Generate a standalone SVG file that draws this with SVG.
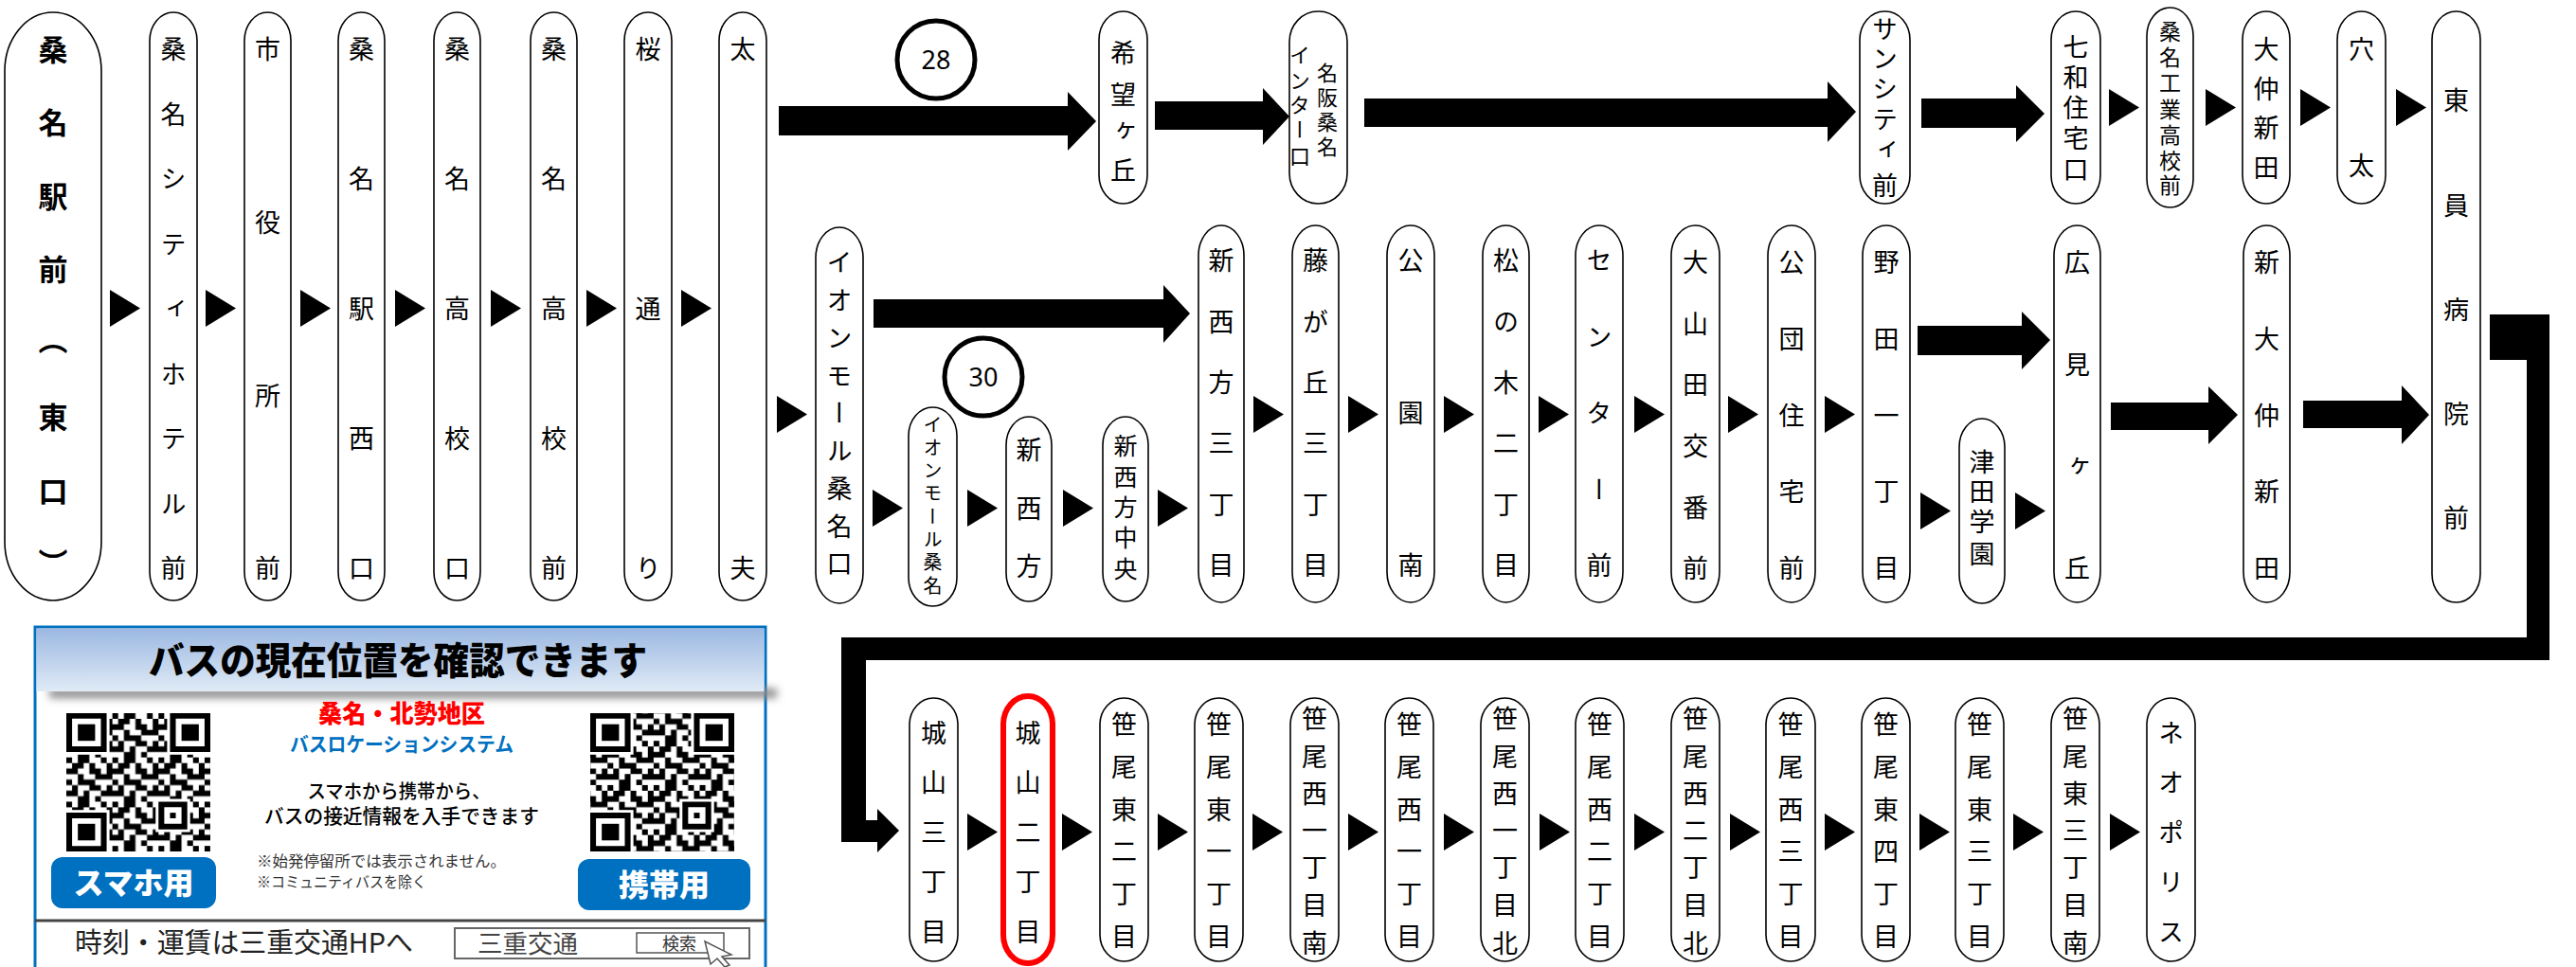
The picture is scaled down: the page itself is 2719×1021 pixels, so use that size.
<svg xmlns="http://www.w3.org/2000/svg" width="2719" height="1021" viewBox="0 0 2719 1021">
<style>
.n{fill:#fff;stroke:#000;stroke-width:1.6}
.v{font-family:"Noto Sans CJK JP","Noto Sans CJK SC",sans-serif;font-size:27px;writing-mode:vertical-rl;text-anchor:middle;fill:#000}
.s20{font-size:20px}.s22{font-size:22px}.s23{font-size:23px}.s25{font-size:25px}
.b{font-weight:700;font-size:31px}
.ar{fill:#000}
.rc{fill:#fff;stroke:#000;stroke-width:5}
.rn{font-family:"Noto Sans","Liberation Sans",sans-serif;font-size:27px;text-anchor:middle;fill:#000}
.j{font-family:"Noto Sans CJK JP","Noto Sans CJK SC",sans-serif}
</style>
<defs>
<polygon id="tri" points="0,0 32,19.5 0,39"/>
<pattern id="qrp" width="8" height="8" patternUnits="userSpaceOnUse"><path d="M0 0h1v1h-1z M2 0h2v1h-2z M6 0h1v1h-1z M1 1h2v1h-2z M4 1h1v1h-1z M7 1h1v1h-1z M0 2h2v1h-2z M4 2h2v1h-2z M7 2h1v1h-1z M2 3h1v1h-1z M5 3h3v1h-3z M0 4h1v1h-1z M2 4h3v1h-3z M1 5h1v1h-1z M4 5h2v1h-2z M7 5h1v1h-1z M0 6h2v1h-2z M3 6h1v1h-1z M6 6h2v1h-2z M2 7h2v1h-2z M5 7h1v1h-1z"/></pattern>
<pattern id="qrp2" href="#qrp" patternTransform="translate(3 5)"/>
<g id="finder"><rect width="8" height="8" fill="#fff" x="-0.5" y="-0.5"/><path d="M0 0h7v7h-7z M1 1v5h5v-5z" fill-rule="evenodd"/><rect x="2" y="2" width="3" height="3"/></g>
<g id="align"><rect x="-0.5" y="-0.5" width="6" height="6" fill="#fff"/><path d="M0 0h5v5h-5z M1 1v3h3v-3z" fill-rule="evenodd"/><rect x="2" y="2" width="1" height="1"/></g>
<linearGradient id="hdr" x1="0" y1="0" x2="0" y2="1"><stop offset="0" stop-color="#9cb8e2"/><stop offset="1" stop-color="#e0ebf6"/></linearGradient>
<filter id="blur" x="-10%" y="-100%" width="120%" height="300%"><feGaussianBlur stdDeviation="4"/></filter>
</defs>
<rect width="2719" height="1021" fill="#fff"/>

<g id="connectors">
<g class="ar">
<use href="#tri" x="116" y="306"/><use href="#tri" x="217" y="306"/><use href="#tri" x="317" y="306"/><use href="#tri" x="417" y="306"/><use href="#tri" x="518" y="306"/><use href="#tri" x="619" y="306"/><use href="#tri" x="719" y="306"/>
<use href="#tri" x="2226" y="94"/><use href="#tri" x="2328" y="94"/><use href="#tri" x="2428" y="94"/><use href="#tri" x="2529" y="94"/>
<use href="#tri" x="820" y="418"/>
<use href="#tri" x="921" y="517"/><use href="#tri" x="1021" y="517"/><use href="#tri" x="1122" y="517"/><use href="#tri" x="1222" y="517"/>
<use href="#tri" x="1323" y="418"/><use href="#tri" x="1423" y="418"/><use href="#tri" x="1524" y="418"/><use href="#tri" x="1624" y="418"/><use href="#tri" x="1725" y="418"/><use href="#tri" x="1824" y="418"/><use href="#tri" x="1926" y="418"/>
<use href="#tri" x="2027" y="520"/><use href="#tri" x="2127" y="520"/>
<use href="#tri" x="1021" y="859"/><use href="#tri" x="1121" y="859"/><use href="#tri" x="1222" y="859"/><use href="#tri" x="1322" y="859"/><use href="#tri" x="1423" y="859"/><use href="#tri" x="1524" y="859"/><use href="#tri" x="1625" y="859"/><use href="#tri" x="1725" y="859"/><use href="#tri" x="1826" y="859"/><use href="#tri" x="1926" y="859"/><use href="#tri" x="2026" y="859"/><use href="#tri" x="2125" y="859"/><use href="#tri" x="2227" y="859"/>
<polygon points="822,112 1127,112 1127,97 1157,128 1127,159 1127,143 822,143"/>
<polygon points="1219,107 1333,107 1333,93 1361,123 1333,153 1333,137 1219,137"/>
<polygon points="1440,104 1929,104 1929,86 1959,118 1929,150 1929,134 1440,134"/>
<polygon points="2028,104 2128,104 2128,90 2158,120 2128,150 2128,135 2028,135"/>
<polygon points="922,316 1228,316 1228,301 1256,331 1228,362 1228,346 922,346"/>
<polygon points="2024,344 2134,344 2134,329 2164,359 2134,390 2134,375 2024,375"/>
<polygon points="2228,425 2331,425 2331,408 2362,438 2331,469 2331,454 2228,454"/>
<polygon points="2431,423 2535,423 2535,407 2564,438 2535,469 2535,452 2431,452"/>
<path d="M2628,332 H2691 V697 H914 V866 H926 V854 L949,877 L926,900 V889 H888 V673 H2667 V380 H2628 Z"/>
</g>
<g id="route28"><circle class="rc" cx="988" cy="63" r="41"/><text class="rn" x="988" y="73">28</text></g>
<g id="route30"><circle class="rc" cx="1038" cy="398" r="41"/><text class="rn" x="1038" y="408">30</text></g>
</g>

<g id="nodes">
<g id="n01"><rect class="n" x="5" y="13" width="102" height="621" rx="51" ry="62"/><text class="v b" x="56" y="52 129 207 284 358 440 518 594">桑名駅前（東口）</text></g>
<g id="n02"><rect class="n" x="158" y="13" width="50" height="621" rx="25" ry="30"/><text class="v" x="183" y="52 120.5 189 257.5 326 394.5 463 531.5 600">桑名シティホテル前</text></g>
<g id="n03"><rect class="n" x="258" y="13" width="49" height="621" rx="24.5" ry="30"/><text class="v" x="282.5" y="52 234.7 417.3 600">市役所前</text></g>
<g id="n04"><rect class="n" x="357" y="13" width="49" height="621" rx="24.5" ry="30"/><text class="v" x="381.5" y="52 189 326 463 600">桑名駅西口</text></g>
<g id="n05"><rect class="n" x="458" y="13" width="49" height="621" rx="24.5" ry="30"/><text class="v" x="482.5" y="52 189 326 463 600">桑名高校口</text></g>
<g id="n06"><rect class="n" x="560" y="13" width="49" height="621" rx="24.5" ry="30"/><text class="v" x="584.5" y="52 189 326 463 600">桑名高校前</text></g>
<g id="n07"><rect class="n" x="659" y="13" width="50" height="621" rx="25" ry="30"/><text class="v" x="684" y="52 326 600">桜通り</text></g>
<g id="n08"><rect class="n" x="759" y="13" width="50" height="621" rx="25" ry="30"/><text class="v" x="784" y="52 600">太夫</text></g>
<g id="n09"><rect class="n" x="1160" y="12" width="51" height="203" rx="25.5" ry="30"/><text class="v" x="1185.5" y="56 100 138 180">希望ヶ丘</text></g>
<g id="n10"><rect class="n" x="1361" y="12" width="61" height="203" rx="30" ry="32"/><text class="v s22" x="1401" y="77 103 129 155">名阪桑名</text><text class="v s22" x="1372" y="58 85 111 137 165">インター口</text></g>
<g id="n11"><rect class="n" x="1963" y="12" width="53" height="203" rx="26" ry="30"/><text class="v" x="1989.5" y="31 62 94 126 158 196">サンシティ前</text></g>
<g id="n12"><rect class="n" x="2165" y="12" width="52" height="203" rx="26" ry="30"/><text class="v" x="2191" y="50 82 114 146 179">七和住宅口</text></g>
<g id="n13"><rect class="n" x="2266" y="8" width="49" height="211" rx="24.5" ry="30"/><text class="v s23" x="2290.5" y="33 60 87 115 142 169 195">桑名工業高校前</text></g>
<g id="n14"><rect class="n" x="2367" y="12" width="50" height="203" rx="25" ry="30"/><text class="v" x="2392" y="52 94 135 177">大仲新田</text></g>
<g id="n15"><rect class="n" x="2467" y="12" width="51" height="203" rx="25.5" ry="30"/><text class="v" x="2492.5" y="52 175">穴太</text></g>
<g id="n16"><rect class="n" x="2567" y="12" width="51" height="624" rx="25.5" ry="30"/><text class="v" x="2592.5" y="106 217 327 437 547">東員病院前</text></g>

<g id="n17"><rect class="n" x="861" y="240" width="50" height="397" rx="25" ry="32"/><text class="v" x="886" y="277 316.75 356.5 396.25 436 475.75 515.5 555.25 595">イオンモール桑名口</text></g>
<g id="n18"><rect class="n" x="959" y="430" width="51" height="210" rx="25.5" ry="30"/><text class="v s20" x="984.5" y="448 472.3 496.6 520.9 545.2 569.5 593.8 618">イオンモール桑名</text></g>
<g id="n19"><rect class="n" x="1062" y="440" width="48" height="195" rx="24" ry="30"/><text class="v" x="1086" y="475 537 598">新西方</text></g>
<g id="n20"><rect class="n" x="1164" y="440" width="48" height="195" rx="24" ry="30"/><text class="v s25" x="1188" y="470 503 535 567 600">新西方中央</text></g>
<g id="n21"><rect class="n" x="1265" y="238" width="48" height="398" rx="24" ry="32"/><text class="v" x="1289" y="275 339.4 403.8 468.2 532.6 597">新西方三丁目</text></g>
<g id="n22"><rect class="n" x="1364" y="238" width="49" height="398" rx="24.5" ry="32"/><text class="v" x="1388.5" y="275 339.4 403.8 468.2 532.6 597">藤が丘三丁目</text></g>
<g id="n23"><rect class="n" x="1464" y="238" width="50" height="398" rx="25" ry="32"/><text class="v" x="1489" y="275 436 597">公園南</text></g>
<g id="n24"><rect class="n" x="1565" y="238" width="49" height="398" rx="24.5" ry="32"/><text class="v" x="1589.5" y="275 339.4 403.8 468.2 532.6 597">松の木二丁目</text></g>
<g id="n25"><rect class="n" x="1663" y="238" width="50" height="398" rx="25" ry="32"/><text class="v" x="1688" y="275 355.5 436 516.5 597">センター前</text></g>
<g id="n26"><rect class="n" x="1764" y="238" width="51" height="398" rx="25.5" ry="32"/><text class="v" x="1789.5" y="277 341.6 406.2 470.8 535.4 600">大山田交番前</text></g>
<g id="n27"><rect class="n" x="1866" y="238" width="50" height="398" rx="25" ry="32"/><text class="v" x="1891" y="277 358 438.5 519 600">公団住宅前</text></g>
<g id="n28"><rect class="n" x="1966" y="238" width="50" height="398" rx="25" ry="32"/><text class="v" x="1991" y="277 358 438.5 519 600">野田一丁目</text></g>
<g id="n29"><rect class="n" x="2068" y="442" width="48" height="195" rx="24" ry="30"/><text class="v" x="2092" y="488 519 551 585">津田学園</text></g>
<g id="n30"><rect class="n" x="2168" y="238" width="49" height="398" rx="24.5" ry="32"/><text class="v" x="2192.5" y="277 385 492 600">広見ヶ丘</text></g>
<g id="n31"><rect class="n" x="2368" y="238" width="49" height="398" rx="24.5" ry="32"/><text class="v" x="2392.5" y="277 358 438.5 519 600">新大仲新田</text></g>

<g id="n32"><rect class="n" x="960" y="737" width="51" height="278" rx="25.5" ry="28"/><text class="v" x="985.5" y="774 826 879 931 984">城山三丁目</text></g>
<g id="n33"><rect x="1059" y="735" width="52" height="282" rx="26" ry="30" fill="#fff" stroke="#f00" stroke-width="6"/><text class="v" x="1085" y="774 826 879 931 984">城山二丁目</text></g>
<g id="n34"><rect class="n" x="1161" y="737" width="51" height="278" rx="25.5" ry="28"/><text class="v" x="1186.5" y="765 810 855 899 944 989">笹尾東二丁目</text></g>
<g id="n35"><rect class="n" x="1261" y="737" width="51" height="278" rx="25.5" ry="28"/><text class="v" x="1286.5" y="765 810 855 899 944 989">笹尾東一丁目</text></g>
<g id="n36"><rect class="n" x="1362" y="737" width="51" height="278" rx="25.5" ry="28"/><text class="v" x="1387.5" y="759 799 838 877 916 956 996">笹尾西一丁目南</text></g>
<g id="n37"><rect class="n" x="1462" y="737" width="51" height="278" rx="25.5" ry="28"/><text class="v" x="1487.5" y="765 810 855 899 944 989">笹尾西一丁目</text></g>
<g id="n38"><rect class="n" x="1563" y="737" width="51" height="278" rx="25.5" ry="28"/><text class="v" x="1588.5" y="759 799 838 877 916 956 996">笹尾西一丁目北</text></g>
<g id="n39"><rect class="n" x="1663" y="737" width="51" height="278" rx="25.5" ry="28"/><text class="v" x="1688.5" y="765 810 855 899 944 989">笹尾西二丁目</text></g>
<g id="n40"><rect class="n" x="1764" y="737" width="51" height="278" rx="25.5" ry="28"/><text class="v" x="1789.5" y="759 799 838 877 916 956 996">笹尾西二丁目北</text></g>
<g id="n41"><rect class="n" x="1864" y="737" width="52" height="278" rx="26" ry="28"/><text class="v" x="1890" y="765 810 855 899 944 989">笹尾西三丁目</text></g>
<g id="n42"><rect class="n" x="1965" y="737" width="51" height="278" rx="25.5" ry="28"/><text class="v" x="1990.5" y="765 810 855 899 944 989">笹尾東四丁目</text></g>
<g id="n43"><rect class="n" x="2064" y="737" width="51" height="278" rx="25.5" ry="28"/><text class="v" x="2089.5" y="765 810 855 899 944 989">笹尾東三丁目</text></g>
<g id="n44"><rect class="n" x="2165" y="737" width="51" height="278" rx="25.5" ry="28"/><text class="v" x="2190.5" y="759 799 838 877 916 956 996">笹尾東三丁目南</text></g>
<g id="n45"><rect class="n" x="2266" y="737" width="51" height="278" rx="25.5" ry="28"/><text class="v" x="2291.5" y="774 826 879 931 984">ネオポリス</text></g>
</g>

<g id="info">
<rect x="37" y="662" width="771" height="380" fill="#fff" stroke="#0070c0" stroke-width="3"/>
<rect x="52" y="727" width="768" height="10" fill="#8a8a8a" filter="url(#blur)"/>
<rect x="38.5" y="663.5" width="768" height="66.5" fill="url(#hdr)"/>
<text class="j" x="420" y="712" font-size="40" font-weight="900" text-anchor="middle" textLength="526" lengthAdjust="spacingAndGlyphs">バスの現在位置を確認できます</text>
<g transform="translate(70 753) scale(6.08 5.84)">
<rect width="25" height="25" fill="url(#qrp)"/>
<use href="#finder" x="0" y="0"/><use href="#finder" x="18" y="0"/><use href="#finder" x="0" y="18"/><use href="#align" x="16" y="16"/>
</g>
<g transform="translate(623 753) scale(6.08 5.84)">
<rect width="25" height="25" fill="url(#qrp2)"/>
<use href="#finder" x="0" y="0"/><use href="#finder" x="18" y="0"/><use href="#finder" x="0" y="18"/><use href="#align" x="16" y="16"/>
</g>
<rect x="54" y="905" width="174" height="54" rx="12" fill="#0070c0"/>
<text class="j" x="141" y="944" font-size="32" font-weight="900" fill="#fff" text-anchor="middle">スマホ用</text>
<rect x="610" y="907" width="182" height="54" rx="12" fill="#0070c0"/>
<text class="j" x="701" y="946" font-size="32" font-weight="900" fill="#fff" text-anchor="middle">携帯用</text>
<text class="j" x="424" y="763" font-size="26" font-weight="900" fill="#f00" text-anchor="middle" textLength="176" lengthAdjust="spacingAndGlyphs">桑名・北勢地区</text>
<text class="j" x="424" y="793" font-size="21" font-weight="700" fill="#0070c0" text-anchor="middle" textLength="236" lengthAdjust="spacingAndGlyphs">バスロケーションシステム</text>
<text class="j" x="421" y="843" font-size="20" font-weight="500" text-anchor="middle" textLength="193" lengthAdjust="spacingAndGlyphs">スマホから携帯から、</text>
<text class="j" x="424" y="869" font-size="21" font-weight="500" text-anchor="middle" textLength="290" lengthAdjust="spacingAndGlyphs">バスの接近情報を入手できます</text>
<text class="j" x="271" y="915" font-size="16" fill="#333" textLength="263" lengthAdjust="spacingAndGlyphs">※始発停留所では表示されません。</text>
<text class="j" x="271" y="937" font-size="16" fill="#333" textLength="179" lengthAdjust="spacingAndGlyphs">※コミュニティバスを除く</text>
<line x1="37" y1="972" x2="808" y2="972" stroke="#444" stroke-width="3"/>
<text class="j" x="79" y="1006" font-size="29" fill="#222" textLength="357" lengthAdjust="spacingAndGlyphs">時刻・運賃は三重交通HPへ</text>
<rect x="480" y="980" width="311" height="32" fill="#fff" stroke="#666" stroke-width="2"/>
<text class="j" x="504" y="1006" font-size="26" fill="#444" textLength="106" lengthAdjust="spacingAndGlyphs">三重交通</text>
<rect x="672" y="985" width="92" height="21" fill="#fff" stroke="#555" stroke-width="1.5"/>
<text class="j" x="717" y="1003" font-size="18" fill="#333" text-anchor="middle">検索</text>
<polygon points="744,994 772,1008 762,1010 770,1019 765,1021 757,1012 750,1018" fill="#fff" stroke="#555" stroke-width="1.5"/>
</g>
</svg>
